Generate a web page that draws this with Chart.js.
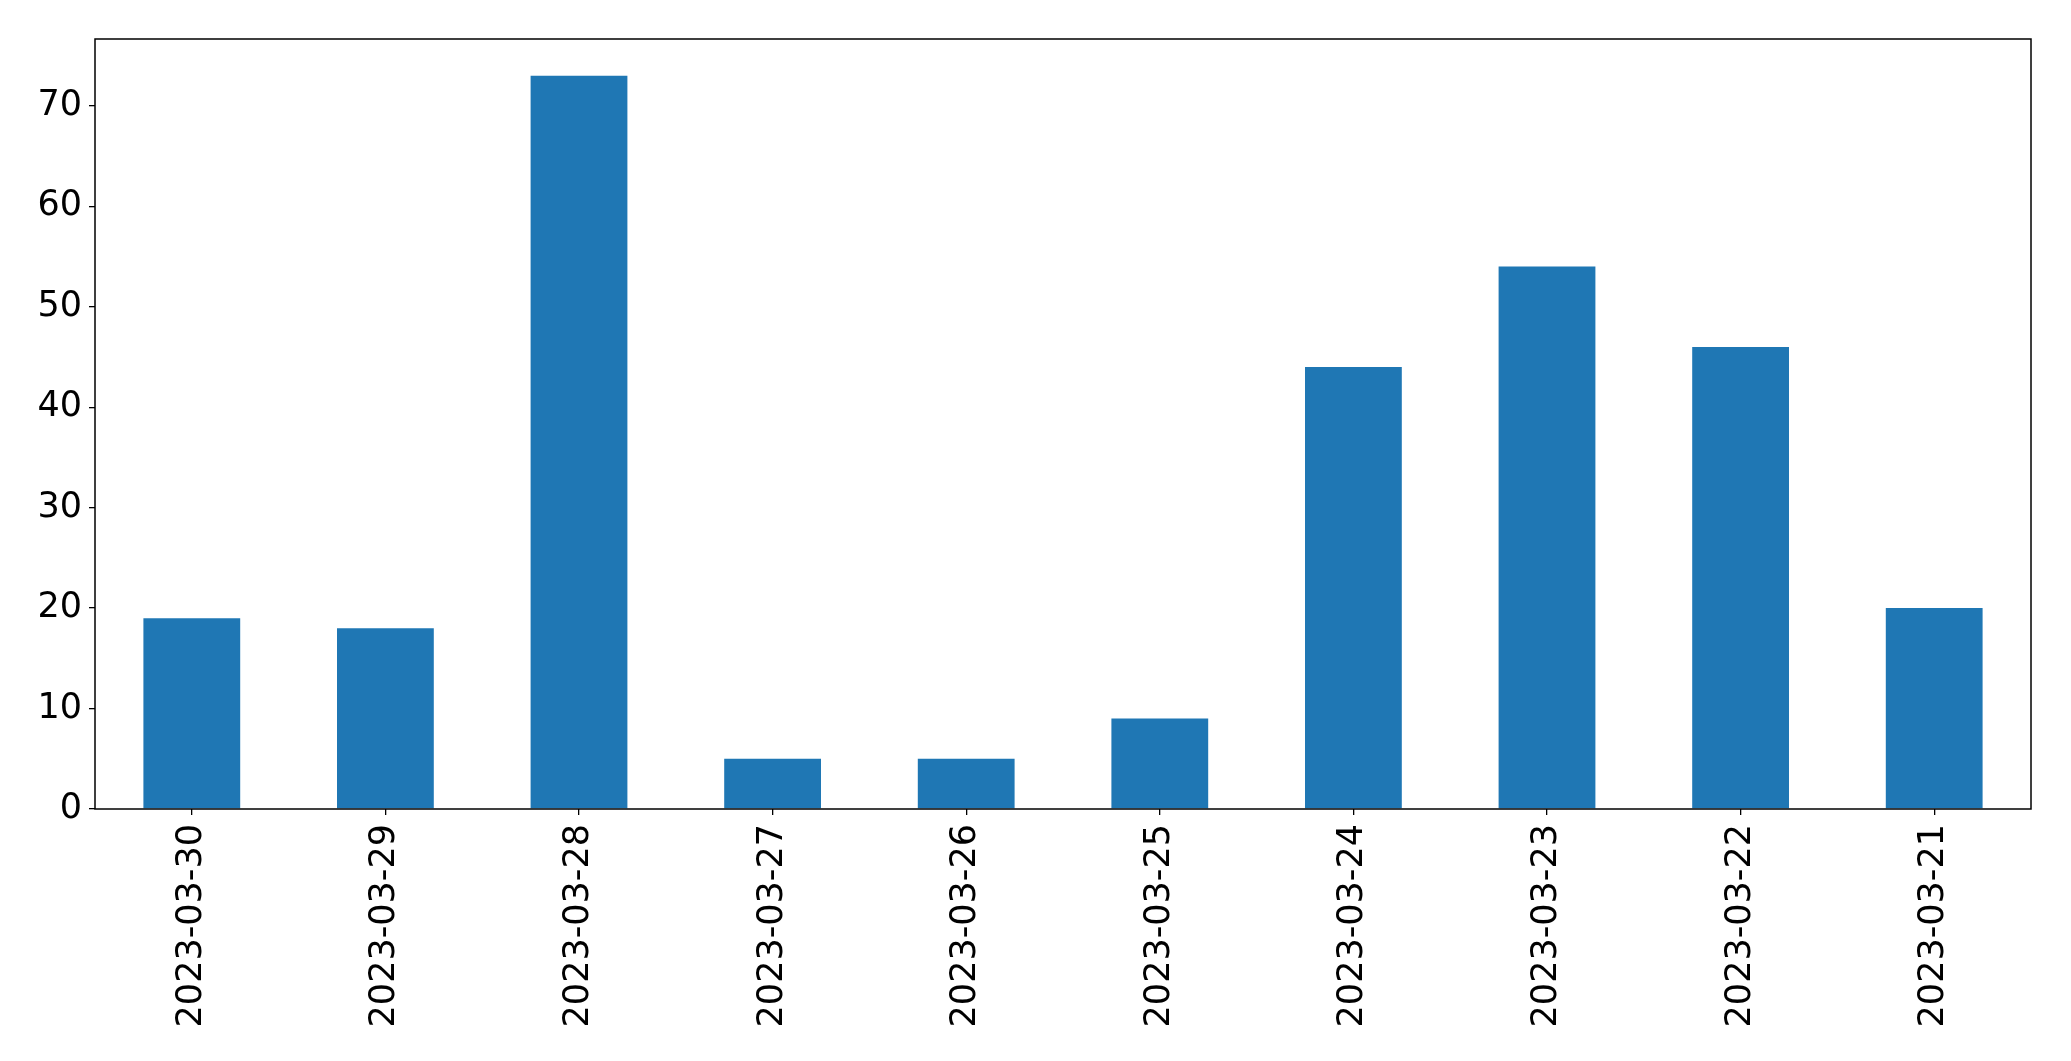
<!DOCTYPE html>
<html>
<head>
<meta charset="utf-8">
<script src="https://cdn.jsdelivr.net/npm/chart.js@4/dist/chart.umd.min.js"></script>
<style>
  html, body { margin: 0; padding: 0; background: #fff; }
  canvas { display: block; }
</style>
</head>
<body>
<canvas id="chart" width="2071" height="1061"></canvas>
<script>
'use strict';

/* Data */
const dates = ['2023-03-30', '2023-03-29', '2023-03-28', '2023-03-27', '2023-03-26',
  '2023-03-25', '2023-03-24', '2023-03-23', '2023-03-22', '2023-03-21'];
const counts = [19, 18, 73, 5, 5, 9, 44, 54, 46, 20];
const yTicks = [0, 10, 20, 30, 40, 50, 60, 70];

const FONT = { family: 'DejaVu Sans', size: 35 };

/* Box around the plot area, like the matplotlib frame */
const frame = {
  id: 'frame',
  afterDraw(chart) {
    const { ctx, chartArea: a } = chart;
    ctx.save();
    ctx.strokeStyle = '#000';
    ctx.lineWidth = 1.5;
    ctx.strokeRect(a.left, a.top, a.right - a.left, a.bottom - a.top);
    ctx.restore();
  },
};

new Chart(document.getElementById('chart'), {
  type: 'bar',
  data: {
    labels: dates,
    datasets: [{
      data: counts,
      backgroundColor: '#1f77b4',
      barPercentage: 0.5,
      categoryPercentage: 1,
    }],
  },
  options: {
    responsive: false,
    animation: false,
    devicePixelRatio: 1,
    layout: { padding: { top: 39, right: 40, left: 0, bottom: 0 } },
    plugins: { legend: { display: false }, tooltip: { enabled: false } },
    scales: {
      x: {
        offset: true,
        grid: { offset: false, drawOnChartArea: false, drawTicks: true, tickLength: 6, lineWidth: 1.3, color: '#000' },
        border: { display: false },
        ticks: { font: FONT, color: '#000', minRotation: 90, maxRotation: 90, padding: 9, autoSkip: false },
        afterFit(scale) { scale.height = 252; },
      },
      y: {
        min: 0,
        max: 73 * 1.05,
        grid: { drawOnChartArea: false, drawTicks: true, tickLength: 6, lineWidth: 1.3, color: '#000' },
        border: { display: false },
        ticks: { font: FONT, color: '#000', padding: 7, stepSize: 10 },
        afterBuildTicks(scale) {
          scale.ticks = yTicks.map(v => ({ value: v }));
        },
        afterFit(scale) { scale.width = 95; },
      },
    },
  },
  plugins: [frame],
});
</script>
</body>
</html>
